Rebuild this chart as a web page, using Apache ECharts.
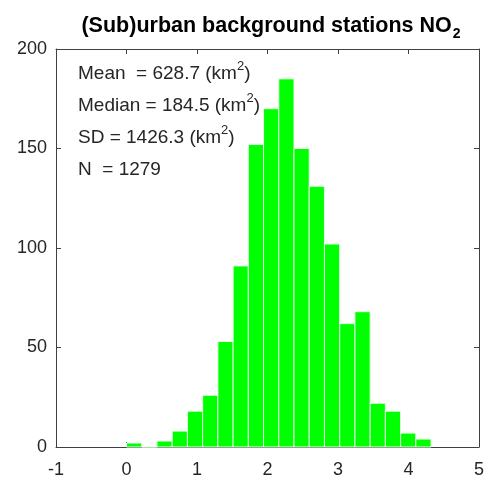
<!DOCTYPE html>
<html>
<head>
<meta charset="utf-8">
<script src="https://cdn.jsdelivr.net/npm/echarts@6/dist/echarts.min.js"></script>
<style>
  html, body { margin: 0; padding: 0; background: #fff; }
  #chart { width: 487px; height: 479px; }
</style>
</head>
<body>
<div id="chart"></div>
<script>
// Histogram of log10(area, km^2) for (sub)urban background NO2 stations
const binStart = 0;
const binWidth = 0.216;
const counts = [2, 0, 3, 8, 18, 26, 53, 91, 152, 170, 185, 150, 131, 102, 62, 68, 22, 18, 7, 4];
const xTicks = [-1, 0, 1, 2, 3, 4, 5];
const yTicks = [0, 50, 100, 150, 200];
const statsLines = [
  ['Mean  = 628.7 (km', '2', ')'],
  ['Median = 184.5 (km', '2', ')'],
  ['SD = 1426.3 (km', '2', ')'],
  ['N  = 1279', '', '']
];

const bins = counts.map((c, i) => [binStart + i * binWidth, binStart + (i + 1) * binWidth, c]);

const axisColor = '#404040';
const textColor = '#262626';
const font = 'Liberation Sans, Arial, Helvetica, sans-serif';

const chart = echarts.init(document.getElementById('chart'), null, { renderer: 'canvas' });

// each line keeps a superscript slot (a blank one for N) so all rows share the same height
const statsGraphics = statsLines.map((parts, i) => ({
  type: 'text',
  left: 78,
  top: 60 + i * 32,
  z: 10,
  style: {
    text: '{b|' + parts[0] + '}{s|' + (parts[1] || ' ') + '}{b|' + parts[2] + '}',
    rich: {
      b: { fontSize: 19, fontFamily: font, fill: textColor, lineHeight: 26, verticalAlign: 'bottom' },
      s: { fontSize: 13, fontFamily: font, fill: textColor, lineHeight: 26, verticalAlign: 'bottom', padding: [0, 0, 10, 0] }
    }
  }
}));

function frameAxis(extra) {
  return Object.assign({
    type: 'value',
    axisLine: { show: true, onZero: false, lineStyle: { color: axisColor, width: 1 } },
    axisTick: { show: true, inside: true, length: 5, lineStyle: { color: axisColor } },
    splitLine: { show: false }
  }, extra);
}

chart.setOption({
  animation: false,
  backgroundColor: '#ffffff',
  title: {
    text: '{t|(Sub)urban background stations NO}{sub|2}',
    left: 266,
    textAlign: 'center',
    top: 10,
    textStyle: {
      rich: {
        t: { fontSize: 21.5, fontWeight: 'bold', fontFamily: font, color: '#000', lineHeight: 28, verticalAlign: 'top' },
        sub: { fontSize: 14, fontWeight: 'bold', fontFamily: font, color: '#000', lineHeight: 28, verticalAlign: 'top', padding: [12, 0, 0, 1] }
      }
    }
  },
  grid: { left: 56, right: 7, top: 49, bottom: 32, containLabel: false },
  xAxis: [
    frameAxis({
      min: xTicks[0], max: xTicks[xTicks.length - 1], interval: 1,
      axisLabel: { color: textColor, fontSize: 18, fontFamily: font, margin: 14 }
    }),
    frameAxis({
      position: 'top',
      min: xTicks[0], max: xTicks[xTicks.length - 1], interval: 1,
      axisLabel: { show: false }
    })
  ],
  yAxis: [
    frameAxis({
      min: yTicks[0], max: yTicks[yTicks.length - 1], interval: 50,
      axisLabel: { color: textColor, fontSize: 18, fontFamily: font, margin: 9 }
    }),
    frameAxis({
      position: 'right',
      min: yTicks[0], max: yTicks[yTicks.length - 1], interval: 50,
      axisLabel: { show: false }
    })
  ],
  series: [{
    type: 'custom',
    xAxisIndex: 0,
    yAxisIndex: 0,
    data: bins,
    encode: { x: [0, 1], y: 2 },
    z: 5,
    renderItem: function (params, api) {
      const x0 = api.value(0), x1 = api.value(1), c = api.value(2);
      const p0 = api.coord([x0, c]);
      const p1 = api.coord([x1, 0]);
      return {
        type: 'rect',
        shape: { x: p0[0], y: p0[1], width: p1[0] - p0[0], height: p1[1] - p0[1] },
        style: { fill: '#00ff00', stroke: '#e6ffe6', lineWidth: 1 }
      };
    }
  }],
  graphic: statsGraphics
});
</script>
</body>
</html>
